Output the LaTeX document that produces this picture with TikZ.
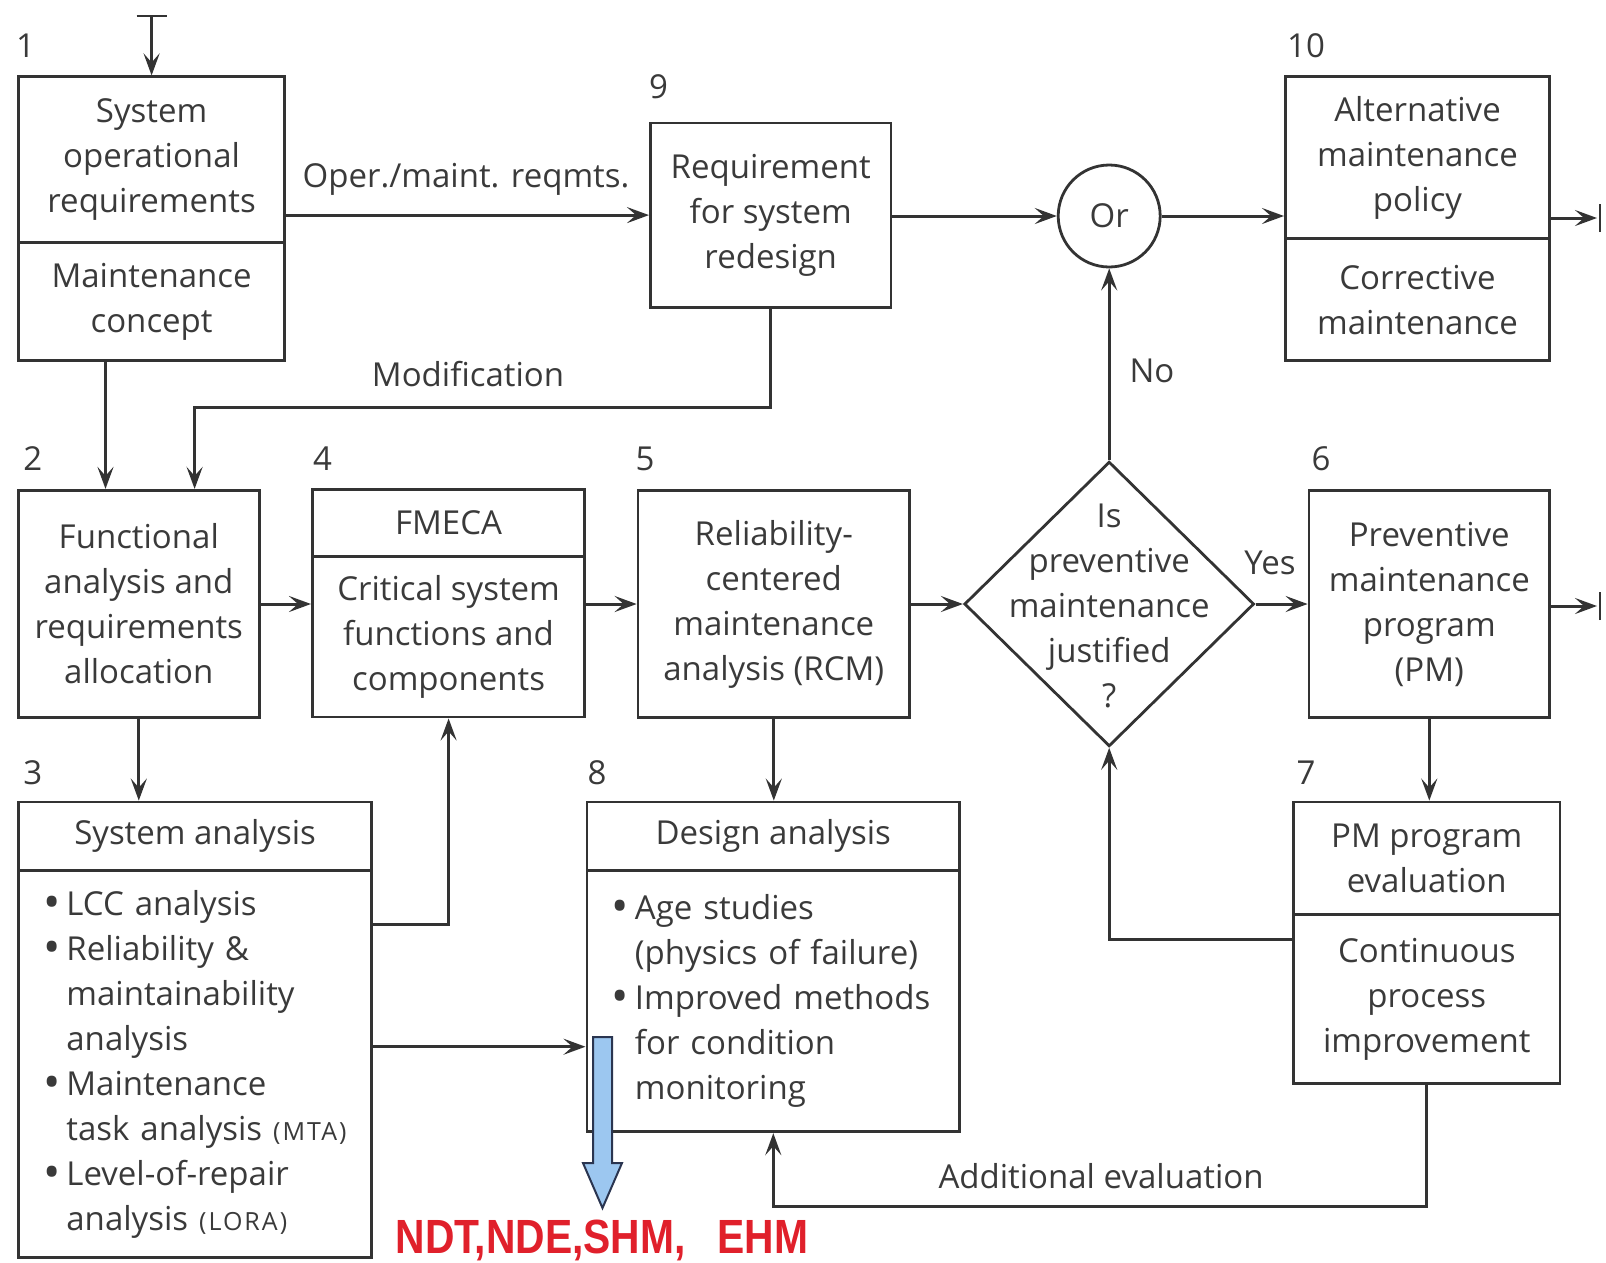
\documentclass[tikz,border=0pt]{standalone}
\usepackage{fontspec}
\setmainfont{Open Sans}
\newfontfamily\redfont[FakeStretch=0.85]{Liberation Sans}
\usetikzlibrary{arrows.meta,shapes.geometric}
\definecolor{ink}{HTML}{3A3A3A}
\definecolor{linec}{HTML}{333333}
\definecolor{ndtred}{HTML}{E0202B}
\definecolor{arrowblue}{HTML}{9CC7F0}
\definecolor{arrowedge}{HTML}{2A3550}
% bullet with hanging indent for list boxes
\newcommand{\bitem}{\makebox[23pt][l]{\raisebox{-3pt}{\fontsize{46}{45}\selectfont\textbullet}}}
\newcommand{\bcont}{\hspace*{23pt}}
\newcommand{\abbr}[1]{{\fontsize{25}{45}\selectfont\addfontfeature{LetterSpace=8}#1}}
\begin{document}
\begin{tikzpicture}[x=1pt,y=-1pt,
  every node/.style={text=ink, font=\fontsize{33}{45}\selectfont},
  box/.style={draw=linec, line width=2.8pt, inner sep=0pt, align=center},
  listbox/.style={draw=linec, line width=2.8pt, inner ysep=0pt, align=left},
  conn/.style={draw=linec, line width=3pt},
  arr/.style={conn, -{Stealth[length=22pt,width=16pt,inset=9pt]}},
  tick/.style={draw=linec, line width=2pt},
]
\useasboundingbox (0,0) rectangle (1606,1262);

% ---- boxes ----
\node[box, minimum width=266.3pt, minimum height=165.9pt] (b1t) at (151.6,159.8) {System\\operational\\requirements};
\node[box, minimum width=266.3pt, minimum height=117.8pt] (b1b) at (151.6,301.6) {Maintenance\\concept};

\node[box, minimum width=240.6pt, minimum height=184.4pt] (b9) at (770.7,215.1) {Requirement\\for system\\redesign};

\node[box, circle, minimum size=102pt] (or) at (1109.2,216) {Or};

\node[box, minimum width=264.2pt, minimum height=161.8pt] (b10t) at (1417.5,157.7) {Alternative\\maintenance\\policy};
\node[box, minimum width=264.2pt, minimum height=121.9pt] (b10b) at (1417.5,299.6) {Corrective\\maintenance};

\node[box, minimum width=240.7pt, minimum height=227.4pt] (b2) at (138.8,604) {Functional\\analysis and\\requirements\\allocation};

\node[box, minimum width=272.4pt, minimum height=66.5pt] (b4t) at (448.6,522.9) {FMECA};
\node[box, minimum width=272.4pt, minimum height=160.9pt] (b4b) at (448.6,636.6) {Critical system\\functions and\\components};

\node[box, minimum width=271.5pt, minimum height=227.4pt] (b5) at (773.8,604) {Reliability-\\centered\\maintenance\\analysis (RCM)};

\node[box, diamond, minimum width=289.8pt, minimum height=284.7pt] (d) at (1109.2,604) {};
\node[align=center] (dtext) at (1109.2,606) {Is\\preventive\\maintenance\\justified\\?};

\node[box, minimum width=240.6pt, minimum height=227.4pt] (b6) at (1429.3,604) {Preventive\\maintenance\\program\\(PM)};

\node[box, minimum width=266.3pt, minimum height=112.6pt] (b7t) at (1426.75,858.3) {PM program\\evaluation};
\node[box, minimum width=266.3pt, minimum height=169pt] (b7b) at (1426.75,999.1) {Continuous\\process\\improvement};

\node[box, minimum width=353.4pt, minimum height=68.6pt] (b3t) at (195.1,836.3) {System analysis};
\node[listbox, inner xsep=25pt, text width=303.4pt, minimum height=387.1pt] (b3b) at (195.1,1064.2)
  {\bitem LCC analysis\\
   \bitem Reliability \&\\
   \bcont maintainability\\
   \bcont analysis\\
   \bitem Maintenance\\
   \bcont task analysis \abbr{(MTA)}\\
   \bitem Level-of-repair\\
   \bcont analysis \abbr{(LORA)}};

\node[box, minimum width=372.8pt, minimum height=68.6pt] (b8t) at (773.3,836.3) {Design analysis};
\node[listbox, inner xsep=25pt, text width=322.8pt, minimum height=261.1pt] (b8b) at (773.3,1001.2)
  {\bitem Age studies\\
   \bcont (physics of failure)\\
   \bitem Improved methods\\
   \bcont for condition\\
   \bcont monitoring};

% ---- step numbers ----
\node (n1) at (25.6,46) {1};
\node (n9) at (658.6,87) {9};
\node (n10) at (1306,46) {10};
\node (n2) at (32.8,459) {2};
\node (n4) at (322.6,459) {4};
\node (n5) at (645,459) {5};
\node (n6) at (1321,459) {6};
\node (n3) at (32.8,773) {3};
\node (n8) at (597,773) {8};
\node (n7) at (1306,773) {7};

% ---- connectors ----
\coordinate (topin) at (151.6,16);
\draw[arr] (topin) -- (b1t.north);
\draw[tick] ([xshift=-15pt]topin) -- ([xshift=15pt]topin);

\draw[arr] (b1t.east |- b9.west) -- (b9.west);
\node (lop) at (466,179) {Oper./maint. reqmts.};
\draw[arr] (b9.east |- or) -- (or.west);
\draw[arr] (or.east) -- (or.east -| b10t.west);

\coordinate (t10) at (1600,218);
\draw[arr] (b10t.east |- t10) -- ([xshift=-3pt]t10);
\draw[tick] ([yshift=-14pt]t10) -- ([yshift=14pt]t10);

\coordinate (modc) at (194.6,407.6);
\draw[arr] (b9.south) |- (modc) -- (modc |- b2.north);
\node (lmod) at (468,374) {Modification};

\coordinate (x12) at (105.5,0);
\draw[arr] (b1b.south -| x12) -- (b2.north -| x12);

\draw[arr] (b2.east) -- (b2.east -| b4b.west);
\draw[arr] (b4b.east |- b5.west) -- (b5.west);
\draw[arr] (b5.east) -- (d.west);
\draw[arr] (d.east) -- (b6.west);
\node (lyes) at (1270,563) {Yes};
\draw[arr] (d.north) -- (or.south);
\node (lno) at (1152,371) {No};

\coordinate (t6) at (1600,606);
\draw[arr] (b6.east |- t6) -- ([xshift=-3pt]t6);
\draw[tick] ([yshift=-14pt]t6) -- ([yshift=14pt]t6);

\draw[arr] (b6.south) -- (b6.south |- b7t.north);

\coordinate (fb) at (1109.2,939.2);
\draw[arr] (fb -| b7b.west) -| (d.south);

\coordinate (ae) at (773.3,1206.5);
\draw[arr] (b7b.south) |- (ae) -- (b8b.south);
\node (lae) at (1101,1176) {Additional evaluation};

\draw[arr] (b5.south) -- (b5.south |- b8t.north);
\draw[arr] (b2.south) -- (b2.south |- b3t.north);

\coordinate (y34) at (0,924.9);
\draw[arr] (b3b.east |- y34) -| (b4b.south);
\coordinate (y38) at (0,1046.7);
\draw[arr] (b3b.east |- y38) -- (b8b.west |- y38);

% ---- monitoring arrow ----
\draw[fill=arrowblue, draw=arrowedge, line width=2pt]
  (593,1037) -- (612,1037) -- (612,1163) -- (622,1163) -- (602.5,1208)
  -- (583,1163) -- (593,1163) -- cycle;
\node[text=ndtred, font=\redfont\bfseries\fontsize{48}{50}\selectfont, inner sep=0pt] (ndt) at (602,1240)
  {NDT,NDE,SHM,\hspace{32pt}EHM};
\end{tikzpicture}
\end{document}
